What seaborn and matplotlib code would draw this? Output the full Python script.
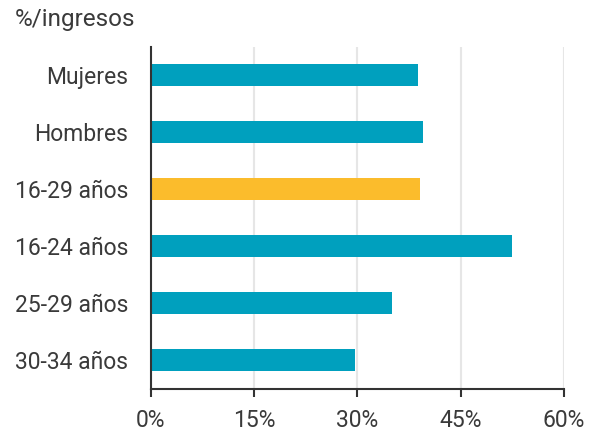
import matplotlib
matplotlib.use("Agg")
import matplotlib.pyplot as plt
import seaborn as sns
import pandas as pd

categorias = ["Mujeres", "Hombres", "16-29 años", "16-24 años", "25-29 años", "30-34 años"]
valores = [38.8, 39.5, 39.1, 52.5, 35.1, 29.6]
colores = ["#00A0BE", "#00A0BE", "#FBBC2C", "#00A0BE", "#00A0BE", "#00A0BE"]
ticks_x = [0, 15, 30, 45, 60]

sns.set_theme(style="white")
plt.rcParams["font.family"] = ["Roboto", "DejaVu Sans"]

df = pd.DataFrame({"cat": categorias, "val": valores})

fig = plt.figure(figsize=(5.94, 4.38), dpi=100)
ax = fig.add_axes([0.2537, 0.113, 0.6958, 0.7808])
sns.barplot(data=df, x="val", y="cat", hue="cat", palette=colores, legend=False,
            width=0.4, ax=ax, linewidth=0, saturation=1)
ax.set_xlim(0, 60)
ax.set_xticks(ticks_x)
ax.set_xticklabels([f"{t}%" for t in ticks_x])
ax.xaxis.grid(True, color="#e6e6e6", linewidth=1.5)
ax.set_axisbelow(True)
ax.set_xlabel("")
ax.set_ylabel("")
for s in ["top", "right"]:
    ax.spines[s].set_visible(False)
for s in ["left", "bottom"]:
    ax.spines[s].set_color("#333333")
    ax.spines[s].set_linewidth(1.5)
ax.tick_params(axis="x", bottom=True, length=6, width=1.5, color="#333333",
               labelsize=16.5, labelcolor="#3a3a3a", pad=9)
ax.tick_params(axis="y", left=False, labelsize=16.5, labelcolor="#3a3a3a", pad=10)
fig.text(0.025, 0.955, "%/ingresos", fontsize=17.5, color="#3a3a3a", va="center",
         ha="left")

fig.savefig("out.png", dpi=100)
